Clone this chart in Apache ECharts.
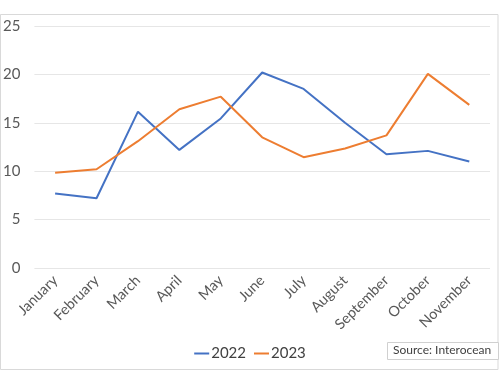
<!DOCTYPE html>
<html>
<head>
<meta charset="utf-8">
<script src="https://cdn.jsdelivr.net/npm/echarts@6/dist/echarts.min.js"></script>
<style>html,body{margin:0;padding:0;background:#fff;}#c{width:500px;height:386px;}</style>
</head>
<body>
<div id="c"></div>
<script>
const categories = ['January','February','March','April','May','June','July','August','September','October','November'];
const series2022 = [7.7, 7.2, 16.15, 12.2, 15.45, 20.2, 18.5, 15.0, 11.75, 12.1, 11.0];
const series2023 = [9.85, 10.2, 13.1, 16.4, 17.7, 13.5, 11.45, 12.35, 13.7, 20.05, 16.85];
const yTicks = [0, 5, 10, 15, 20, 25];
const sourceText = 'Source: Interocean';

const FONT = 'Lato, "Open Sans", sans-serif';
const chart = echarts.init(document.getElementById('c'), null, {renderer: 'canvas'});
chart.setOption({
  animation: false,
  backgroundColor: '#fff',
  grid: {left: 34, right: 10, top: 26, bottom: 118, containLabel: false},
  legend: {
    bottom: 20, left: 'center',
    itemWidth: 15, itemHeight: 2, itemGap: 8,
    icon: 'rect',
    textStyle: {fontFamily: FONT, fontSize: 15, color: '#404040', padding: [0,0,0,-3]},
    data: ['2022', '2023']
  },
  xAxis: {
    type: 'category',
    data: categories,
    boundaryGap: true,
    axisLine: {show: false},
    axisTick: {show: false},
    axisLabel: {rotate: 45, fontFamily: FONT, fontSize: 14.5, color: '#595959', margin: 10, interval: 0}
  },
  yAxis: {
    type: 'value',
    min: yTicks[0], max: yTicks[yTicks.length-1], interval: 5,
    axisLine: {show: false},
    axisTick: {show: false},
    splitLine: {lineStyle: {color: '#e6e6e6', width: 1}},
    axisLabel: {fontFamily: FONT, fontSize: 15, color: '#595959', margin: 14}
  },
  series: [
    {name: '2022', type: 'line', data: series2022, symbol: 'none', lineStyle: {color: '#4472C4', width: 2}, itemStyle: {color: '#4472C4'}},
    {name: '2023', type: 'line', data: series2023, symbol: 'none', lineStyle: {color: '#ED7D31', width: 2}, itemStyle: {color: '#ED7D31'}}
  ],
  graphic: [
    {type: 'rect', shape: {x: 0.5, y: 14.5, width: 497.5, height: 355}, style: {fill: 'none', stroke: '#d9d9d9', lineWidth: 1}, silent: true, z: -1},
    {type: 'rect', shape: {x: 387.5, y: 342.5, width: 111, height: 17}, style: {fill: '#fff', stroke: '#d0d0d0', lineWidth: 1}, z: 10},
    {type: 'text', left: 393, top: 344, style: {text: sourceText, fontFamily: FONT, fontSize: 12, fill: '#404040'}, z: 11}
  ]
});
</script>
</body>
</html>
